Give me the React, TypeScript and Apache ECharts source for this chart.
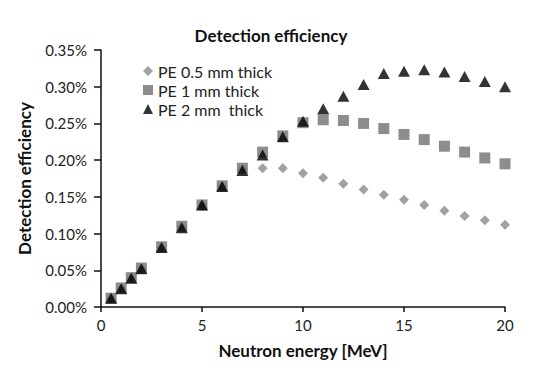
import React, { useEffect, useRef } from "react";
import * as echarts from "echarts";

const energies = [0.5, 1, 1.5, 2, 3, 4, 5, 6, 7, 8, 9, 10, 11, 12, 13, 14, 15, 16, 17, 18, 19, 20];
const pe05 = [0.012, 0.025, 0.039, 0.052, 0.081, 0.109, 0.139, 0.164, 0.188, 0.189, 0.189, 0.182, 0.176, 0.168, 0.160, 0.153, 0.146, 0.139, 0.131, 0.124, 0.118, 0.112];
const pe1 = [0.012, 0.026, 0.040, 0.053, 0.082, 0.110, 0.139, 0.165, 0.189, 0.211, 0.233, 0.251, 0.255, 0.254, 0.250, 0.243, 0.235, 0.228, 0.219, 0.211, 0.203, 0.195];
const pe2 = [0.012, 0.025, 0.039, 0.052, 0.081, 0.108, 0.139, 0.164, 0.186, 0.207, 0.232, 0.253, 0.270, 0.287, 0.303, 0.318, 0.321, 0.323, 0.320, 0.314, 0.307, 0.300];
const seriesNames = ["PE 0.5 mm thick", "PE 1 mm thick", "PE 2 mm  thick"];
const xTicks = { min: 0, max: 20, interval: 5 };
const yTicks = { min: 0, max: 0.35, interval: 0.05 };

const font = "Lato, 'Open Sans', sans-serif";

export default function App() {
  const ref = useRef<HTMLDivElement>(null);
  useEffect(() => {
    if (!ref.current) return;
    const chart = echarts.init(ref.current, null, { renderer: "svg" });
    const mk = (vals: number[]) => energies.map((e, i) => [e, vals[i]]);
    chart.setOption({
      animation: false,
      backgroundColor: "#ffffff",
      textStyle: { fontFamily: font },
      title: {
        text: "Detection efficiency",
        left: 266,
        textAlign: "center",
        top: 22,
        textStyle: { fontSize: 17, fontWeight: "bold", color: "#111", fontFamily: font },
      },
      legend: {
        left: 143,
        top: 62,
        padding: 0,
        orient: "vertical",
        itemWidth: 10,
        itemHeight: 10,
        itemGap: 1,
        textStyle: { fontSize: 16, lineHeight: 18, color: "#222", fontFamily: font },
        data: [
          { name: seriesNames[0], icon: "diamond" },
          { name: seriesNames[1], icon: "rect" },
          { name: seriesNames[2], icon: "triangle" },
        ],
      },
      grid: { left: 101, right: 54, top: 50, bottom: 72, containLabel: false },
      xAxis: {
        type: "value",
        min: xTicks.min,
        max: xTicks.max,
        interval: xTicks.interval,
        name: "Neutron energy [MeV]",
        nameLocation: "middle",
        nameGap: 35,
        nameTextStyle: { fontSize: 17, fontWeight: "bold", color: "#111", fontFamily: font },
        axisLine: { lineStyle: { color: "#111", width: 1.5 } },
        axisTick: { show: true, inside: false, length: 5, lineStyle: { color: "#111", width: 1.5 } },
        axisLabel: { fontSize: 15, color: "#222", margin: 10, fontFamily: font },
        splitLine: { show: false },
      },
      yAxis: {
        type: "value",
        min: yTicks.min,
        max: yTicks.max,
        interval: yTicks.interval,
        name: "Detection efficiency",
        nameLocation: "middle",
        nameGap: 68,
        nameTextStyle: { fontSize: 17, fontWeight: "bold", color: "#111", fontFamily: font },
        axisLine: { show: true, lineStyle: { color: "#111", width: 1.5 } },
        axisTick: { show: true, inside: false, length: 7, lineStyle: { color: "#111", width: 1.5 } },
        axisLabel: {
          fontSize: 15,
          color: "#222",
          margin: 14,
          fontFamily: font,
          formatter: (v: number) => v.toFixed(2) + "%",
        },
        splitLine: { show: false },
      },
      series: [
        {
          name: seriesNames[0],
          type: "scatter",
          symbol: "diamond",
          symbolSize: 10,
          itemStyle: { color: "#8a8a8a" },
          data: mk(pe05),
          z: 2,
        },
        {
          name: seriesNames[1],
          type: "scatter",
          symbol: "rect",
          symbolSize: 11,
          itemStyle: { color: "#707070" },
          data: mk(pe1),
          z: 3,
        },
        {
          name: seriesNames[2],
          type: "scatter",
          symbol: "triangle",
          symbolSize: [12, 11],
          itemStyle: { color: "#000000" },
          data: mk(pe2),
          z: 4,
        },
      ],
    });
    return () => chart.dispose();
  }, []);
  return (
    <div
      ref={ref}
      style={{ position: "fixed", left: 0, top: 0, width: 559, height: 379, background: "#fff" }}
    />
  );
}
